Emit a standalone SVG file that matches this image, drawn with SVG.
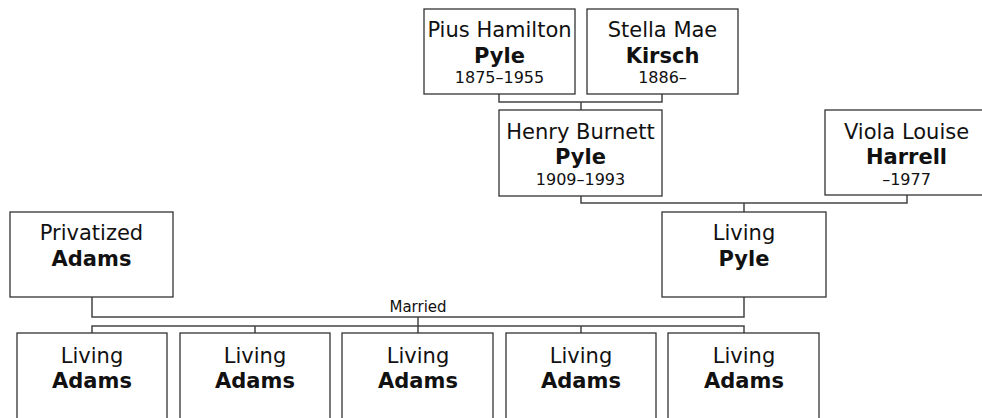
<svg xmlns="http://www.w3.org/2000/svg" width="982" height="418" viewBox="0 0 982 418">
<style>
.box{fill:#fff;stroke:#333;stroke-width:1.3}
.t{font-family:"DejaVu Sans","Verdana",sans-serif;font-size:21px;fill:#111;text-anchor:middle}
.b{font-weight:bold}
.d{font-size:16px}
.c{fill:none;stroke:#444;stroke-width:1.5}
.lbl{font-family:"DejaVu Sans","Verdana",sans-serif;font-size:15px;fill:#111;text-anchor:middle}
</style>
<rect width="982" height="418" fill="#fff"/>
<g id="connectors">
<path class="c" d="M499,94 V102 H662 V94 M581,102 V110"/>
<path class="c" d="M581,196 V203 H907 V195 M744,203 V212"/>
<path class="c" d="M92,297 V317 H744 V297 M418,317 V326"/>
<path class="c" d="M92,333 V326 H744 V333 M255,326 V333 M418,326 V333 M581,326 V333"/>
<text class="lbl" x="418" y="312">Married</text>
</g>
<g id="pius">
<rect class="box" x="424" y="9" width="151" height="85"/>
<text class="t" x="499.5" y="37">Pius Hamilton</text>
<text class="t b" x="499.5" y="63">Pyle</text>
<text class="t d" x="499.5" y="83">1875–1955</text>
</g>
<g id="stella">
<rect class="box" x="587" y="9" width="151" height="85"/>
<text class="t" x="662.5" y="37">Stella Mae</text>
<text class="t b" x="662.5" y="63">Kirsch</text>
<text class="t d" x="662.5" y="83">1886–</text>
</g>
<g id="henry">
<rect class="box" x="499" y="110" width="163" height="86"/>
<text class="t" x="580.5" y="139">Henry Burnett</text>
<text class="t b" x="580.5" y="164">Pyle</text>
<text class="t d" x="580.5" y="185">1909–1993</text>
</g>
<g id="viola">
<rect class="box" x="825" y="110" width="163" height="85"/>
<text class="t" x="906.5" y="139">Viola Louise</text>
<text class="t b" x="906.5" y="164">Harrell</text>
<text class="t d" x="906.5" y="185">–1977</text>
</g>
<g id="privatized">
<rect class="box" x="10" y="212" width="163" height="85"/>
<text class="t" x="91.5" y="240">Privatized</text>
<text class="t b" x="91.5" y="266">Adams</text>
</g>
<g id="livingpyle">
<rect class="box" x="662" y="212" width="164" height="85"/>
<text class="t" x="744" y="240">Living</text>
<text class="t b" x="744" y="266">Pyle</text>
</g>
<g id="child1">
<rect class="box" x="17" y="333" width="150" height="95"/>
<text class="t" x="92" y="363">Living</text>
<text class="t b" x="92" y="388">Adams</text>
</g>
<g id="child2">
<rect class="box" x="180" y="333" width="150" height="95"/>
<text class="t" x="255" y="363">Living</text>
<text class="t b" x="255" y="388">Adams</text>
</g>
<g id="child3">
<rect class="box" x="342" y="333" width="151" height="95"/>
<text class="t" x="418" y="363">Living</text>
<text class="t b" x="418" y="388">Adams</text>
</g>
<g id="child4">
<rect class="box" x="506" y="333" width="150" height="95"/>
<text class="t" x="581" y="363">Living</text>
<text class="t b" x="581" y="388">Adams</text>
</g>
<g id="child5">
<rect class="box" x="668" y="333" width="151" height="95"/>
<text class="t" x="744" y="363">Living</text>
<text class="t b" x="744" y="388">Adams</text>
</g>
</svg>
